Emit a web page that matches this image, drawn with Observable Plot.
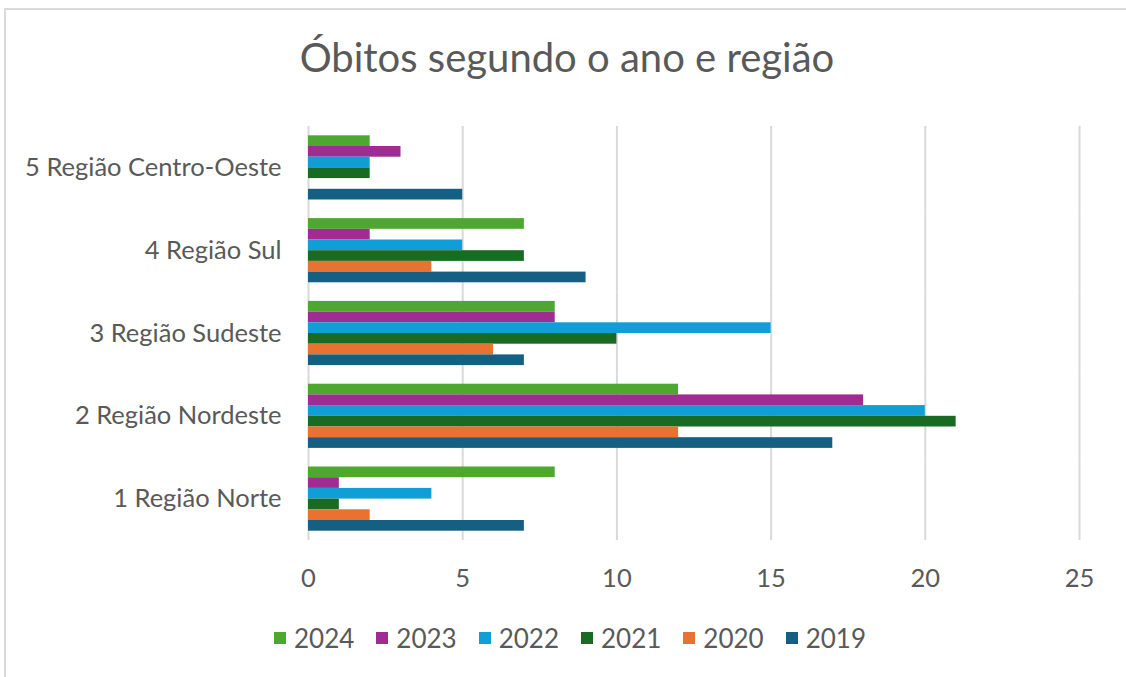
<!DOCTYPE html>
<html>
<head>
<meta charset="utf-8">
<script src="https://cdn.jsdelivr.net/npm/d3@7"></script>
<script src="https://cdn.jsdelivr.net/npm/@observablehq/plot@0.6"></script>
<style>
  html, body { margin: 0; padding: 0; background: #fff; }
  body { width: 1126px; height: 677px; overflow: hidden; position: relative; font-family: Lato, "Open Sans", sans-serif; }
  #frame { position: absolute; left: 4px; top: 8px; width: 1200px; height: 720px; border: 2px solid #d9d9d9; box-sizing: border-box; }
  #title { position: absolute; top: 33px; left: 0; width: 1126px; text-align: center; font-size: 40px; color: #595959; padding-left: 8px; box-sizing: border-box; }
  #chart { position: absolute; left: 0; top: 100px; }
  #legend { position: absolute; left: 0; top: 621px; width: 1126px; display: flex; justify-content: center; padding-left: 36px; box-sizing: border-box; }
  #legend .lg-swatch { margin-right: 22px !important; font-size: 26px; color: #595959; }
  #legend .lg-swatch svg { margin-right: 8px !important; }
</style>
</head>
<body>
<div id="frame"></div>
<div id="title">Óbitos segundo o ano e região</div>
<div id="chart"></div>
<div id="legend"></div>
<script>
// Categories (order 1..5 as labelled in the reference)
const regions = ["1 Região Norte", "2 Região Nordeste", "3 Região Sudeste", "4 Região Sul", "5 Região Centro-Oeste"];
const years = ["2024", "2023", "2022", "2021", "2020", "2019"];
const colors = ["#4EA72E", "#A02B93", "#0F9ED5", "#196B24", "#E97132", "#156082"];
// Series values, one per region (same order as regions)
const v2024 = [8, 12, 8, 7, 2];
const v2023 = [1, 18, 8, 2, 3];
const v2022 = [4, 20, 15, 5, 2];
const v2021 = [1, 21, 10, 7, 2];
const v2020 = [2, 12, 6, 4, 0];
const v2019 = [7, 17, 7, 9, 5];
const xTicks = [0, 5, 10, 15, 20, 25];

const series = {"2024": v2024, "2023": v2023, "2022": v2022, "2021": v2021, "2020": v2020, "2019": v2019};
const data = [];
for (const y of years) regions.forEach((r, i) => data.push({region: r, year: y, value: series[y][i]}));

const chart = Plot.plot({
  width: 1126,
  height: 500,
  marginLeft: 308,
  marginRight: 47,
  marginTop: 26,
  marginBottom: 60,
  style: {fontFamily: "Lato, 'Open Sans', sans-serif", fontSize: "25.5px", color: "#595959", background: "transparent"},
  x: {domain: [0, 25], ticks: xTicks, tickSize: 0, tickPadding: 28, label: null},
  fy: {domain: regions.slice().reverse(), padding: 0, round: false, label: null, axis: "left", tickSize: 0, tickPadding: 27},
  y: {domain: years, paddingInner: 0, paddingOuter: 0.87, round: false, axis: null},
  color: {domain: years, range: colors},
  marks: [
    Plot.gridX(xTicks, {stroke: "#d9d9d9", strokeWidth: 2, strokeOpacity: 1}),
    Plot.barX(data, {x: "value", y: "year", fy: "region", fill: "year", inset: 0})
  ]
});
document.getElementById("chart").appendChild(chart);

const legend = Plot.legend({
  color: {domain: years, range: colors},
  legend: "swatches",
  swatchSize: 12,
  className: "lg",
  style: {fontFamily: "Lato, 'Open Sans', sans-serif", fontSize: "26px", color: "#595959"}
});
document.getElementById("legend").appendChild(legend);
</script>
</body>
</html>
